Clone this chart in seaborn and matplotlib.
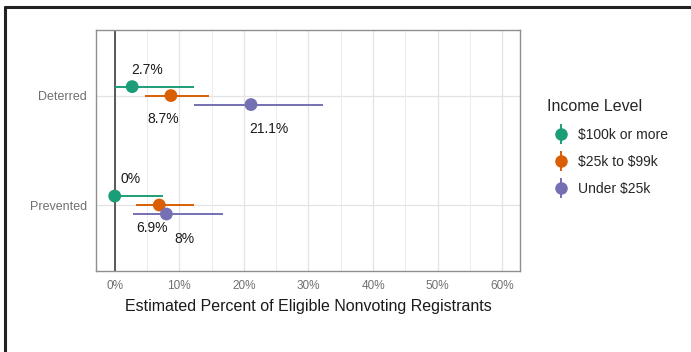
import matplotlib
matplotlib.use("Agg")
import matplotlib.pyplot as plt
import seaborn as sns
import pandas as pd
from matplotlib.lines import Line2D
from matplotlib.legend_handler import HandlerTuple

# dados
outcomes = ['Deterred', 'Prevented']
income_levels = ['$100k or more', '$25k to $99k', 'Under $25k']
deterred_est = [2.7, 8.7, 21.1]
deterred_lo = [0.1, 4.7, 12.3]
deterred_hi = [12.2, 14.6, 32.2]
prevented_est = [0.0, 6.9, 8.0]
prevented_lo = [0.0, 3.3, 2.9]
prevented_hi = [7.5, 12.3, 16.7]
value_labels = ['2.7%', '8.7%', '21.1%', '0%', '6.9%', '8%']

colors = ['#1B9E77', '#D95F02', '#7570B3']

df = pd.DataFrame({
    'Outcome': [outcomes[0]] * 3 + [outcomes[1]] * 3,
    'Income Level': income_levels * 2,
    'est': deterred_est + prevented_est,
    'lo': deterred_lo + prevented_lo,
    'hi': deterred_hi + prevented_hi,
    'label': value_labels,
})

# posição vertical com "dodge"
dodge = {lvl: off for lvl, off in zip(income_levels, [0.082, 0.0, -0.082])}
ypos = {outcomes[0]: 1.0, outcomes[1]: 0.0}
df['y'] = df['Outcome'].map(ypos) + df['Income Level'].map(dodge)

# deslocamento dos rótulos (em % e em unidades de y)
nudge_x = [2.3, -1.2, 2.7, 2.4, -1.2, 2.8]
nudge_y = [0.155, -0.21, -0.225, 0.155, -0.21, -0.225]

sns.set_theme(style="whitegrid")
plt.rcParams['font.family'] = ['Liberation Sans', 'DejaVu Sans']
plt.rcParams['text.parse_math'] = False

fig = plt.figure(figsize=(6.91, 3.52), dpi=100)
ax = fig.add_axes([0.1389, 0.231, 0.6141, 0.684])

ax.axvline(0, color='#4d4d4d', lw=1.3, zorder=1)

for i, row in df.iterrows():
    c = colors[income_levels.index(row['Income Level'])]
    ax.hlines(row['y'], row['lo'], row['hi'], color=c, lw=1.4, zorder=2)

sns.scatterplot(data=df, x='est', y='y', hue='Income Level', palette=colors,
                s=85, edgecolor='none', legend=False, zorder=3, ax=ax)

for i, row in df.iterrows():
    ax.text(row['est'] + nudge_x[i], row['y'] + nudge_y[i], row['label'],
            ha='center', va='center', fontsize=10, color='#1a1a1a')

ax.set_xlim(-2.9, 62.8)
ax.set_ylim(-0.6, 1.6)
ax.set_xticks(range(0, 61, 10))
ax.set_xticklabels([f'{v}%' for v in range(0, 61, 10)])
ax.set_xticks(range(5, 61, 10), minor=True)
ax.set_yticks([ypos[o] for o in outcomes])
ax.set_yticklabels(outcomes)

ax.grid(True, which='major', color='#e3e3e3', lw=0.9)
ax.grid(True, which='minor', axis='x', color='#ececec', lw=0.7)
ax.grid(False, which='major', axis='y')
for o in outcomes:
    ax.axhline(ypos[o], color='#e3e3e3', lw=0.9, zorder=0)
ax.set_axisbelow(True)

for s in ax.spines.values():
    s.set_color('#8f8f8f')
    s.set_linewidth(1.0)
ax.tick_params(axis='both', which='major', length=3.5, width=0.8, color='#9a9a9a',
               labelcolor='#707070', labelsize=8.5, pad=3)
ax.tick_params(axis='y', labelsize=9)
ax.tick_params(which='minor', length=0)

ax.set_xlabel('Estimated Percent of Eligible Nonvoting Registrants', fontsize=11.5,
              color='#1a1a1a', labelpad=5)
ax.set_ylabel('')

# legenda com ponto + traço vertical (como pointrange)
handles = []
for c in colors:
    vline = Line2D([0], [0], color=c, marker='|', markersize=14, markeredgewidth=1.4, lw=0)
    dot = Line2D([0], [0], color=c, marker='o', markersize=8, markeredgecolor=c, lw=0)
    handles.append((vline, dot))
leg = fig.legend(handles, income_levels, title='Income Level', loc='upper left',
                 bbox_to_anchor=(0.774, 0.753), frameon=False, fontsize=10,
                 title_fontsize=11.5, handlelength=2.0, handletextpad=0.2,
                 labelspacing=0.95,
                 handler_map={tuple: HandlerTuple(ndivide=1, pad=0)})
leg._legend_box.align = 'left'

# moldura (topo e esquerda)
fig.add_artist(Line2D([0.0075, 1.0], [0.979, 0.979], color='#222222', lw=2.2,
                      transform=fig.transFigure))
fig.add_artist(Line2D([0.0075, 0.0075], [0.0, 0.979], color='#222222', lw=2.2,
                      transform=fig.transFigure))

fig.savefig('out.png', dpi=100)
